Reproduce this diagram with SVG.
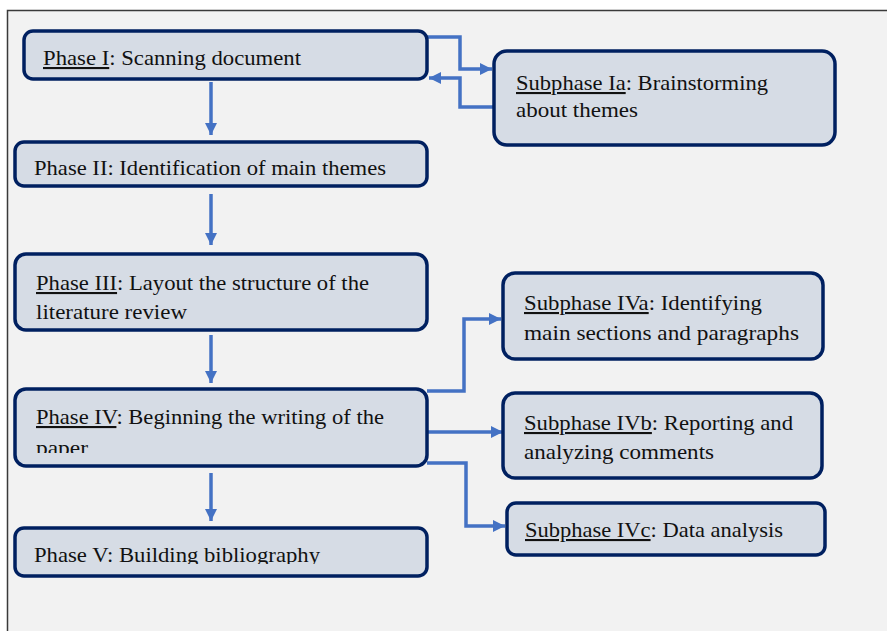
<svg xmlns="http://www.w3.org/2000/svg" width="887" height="631" viewBox="0 0 887 631">
<style>
.box{fill:#d6dce5;stroke:#002060;stroke-width:3.5}
.t{font-family:"Liberation Serif","Times New Roman",serif;font-size:21px;fill:#111}
.u{text-decoration:underline}
.c{fill:none;stroke:#4472c4;stroke-width:3.5}
</style>
<defs>
<marker id="ah" markerUnits="userSpaceOnUse" markerWidth="14" markerHeight="14" viewBox="0 0 14 14" refX="12" refY="7" orient="auto">
<path d="M0,1 L12,7 L0,13 Z" fill="#4472c4"/>
</marker>
<clipPath id="clip4"><rect x="15" y="389" width="412" height="64"/></clipPath>
<clipPath id="clip5"><rect x="15" y="528" width="412" height="36"/></clipPath>
</defs>
<rect x="0" y="0" width="887" height="631" fill="#ffffff"/>
<rect x="7.5" y="10.5" width="890" height="630" fill="#f2f2f2" stroke="#3a3a3a" stroke-width="1.5"/>
<g id="connectors">
<path class="c" d="M211,82 V135" marker-end="url(#ah)"/>
<path class="c" d="M211,194 V245" marker-end="url(#ah)"/>
<path class="c" d="M211,335 V383" marker-end="url(#ah)"/>
<path class="c" d="M211,473 V521" marker-end="url(#ah)"/>
<path class="c" d="M427,37 H460 V69 H492" marker-end="url(#ah)"/>
<path class="c" d="M494,107 H460 V78 H429" marker-end="url(#ah)"/>
<path class="c" d="M427,391 H464 V319 H501" marker-end="url(#ah)"/>
<path class="c" d="M427,432 H503" marker-end="url(#ah)"/>
<path class="c" d="M427,463 H466 V526 H505" marker-end="url(#ah)"/>
</g>
<g id="phase1">
<rect class="box" x="24" y="31" width="403" height="48" rx="9"/>
<text class="t" x="43" y="65" textLength="258" lengthAdjust="spacingAndGlyphs"><tspan class="u">Phase I</tspan>: Scanning document</text>
</g>
<g id="phase2">
<rect class="box" x="15" y="142" width="412" height="44" rx="9"/>
<text class="t" x="34" y="175" textLength="352" lengthAdjust="spacingAndGlyphs">Phase II: Identification of main themes</text>
</g>
<g id="phase3">
<rect class="box" x="15" y="254" width="412" height="76" rx="11"/>
<text class="t" x="36" y="290" textLength="333" lengthAdjust="spacingAndGlyphs"><tspan class="u">Phase III</tspan>: Layout the structure of the</text>
<text class="t" x="36" y="319" textLength="151" lengthAdjust="spacingAndGlyphs">literature review</text>
</g>
<g id="phase4">
<rect class="box" x="15" y="389" width="412" height="77" rx="11"/>
<text class="t" x="36" y="455" textLength="52" lengthAdjust="spacingAndGlyphs" clip-path="url(#clip4)">paper</text>
<text class="t" x="36" y="424" textLength="348" lengthAdjust="spacingAndGlyphs"><tspan class="u">Phase IV</tspan>: Beginning the writing of the</text>
</g>
<g id="phase5">
<rect class="box" x="15" y="528" width="412" height="48" rx="9"/>
<text class="t" x="34" y="562" textLength="286" lengthAdjust="spacingAndGlyphs" clip-path="url(#clip5)">Phase V: Building bibliography</text>
</g>
<g id="subphaseIa">
<rect class="box" x="494" y="51" width="341" height="94" rx="13"/>
<text class="t" x="516" y="90" textLength="252" lengthAdjust="spacingAndGlyphs"><tspan class="u">Subphase Ia</tspan>: Brainstorming</text>
<text class="t" x="516" y="117" textLength="122" lengthAdjust="spacingAndGlyphs">about themes</text>
</g>
<g id="subphaseIVa">
<rect class="box" x="503" y="273" width="320" height="86" rx="12"/>
<text class="t" x="524" y="310" textLength="238" lengthAdjust="spacingAndGlyphs"><tspan class="u">Subphase IVa</tspan>: Identifying</text>
<text class="t" x="524" y="340" textLength="275" lengthAdjust="spacingAndGlyphs">main sections and paragraphs</text>
</g>
<g id="subphaseIVb">
<rect class="box" x="503" y="393" width="319" height="85" rx="12"/>
<text class="t" x="524" y="430" textLength="269" lengthAdjust="spacingAndGlyphs"><tspan class="u">Subphase IVb</tspan>: Reporting and</text>
<text class="t" x="524" y="459" textLength="190" lengthAdjust="spacingAndGlyphs">analyzing comments</text>
</g>
<g id="subphaseIVc">
<rect class="box" x="507" y="503" width="318" height="52" rx="9"/>
<text class="t" x="525" y="537" textLength="258" lengthAdjust="spacingAndGlyphs"><tspan class="u">Subphase IVc</tspan>: Data analysis</text>
</g>
</svg>
